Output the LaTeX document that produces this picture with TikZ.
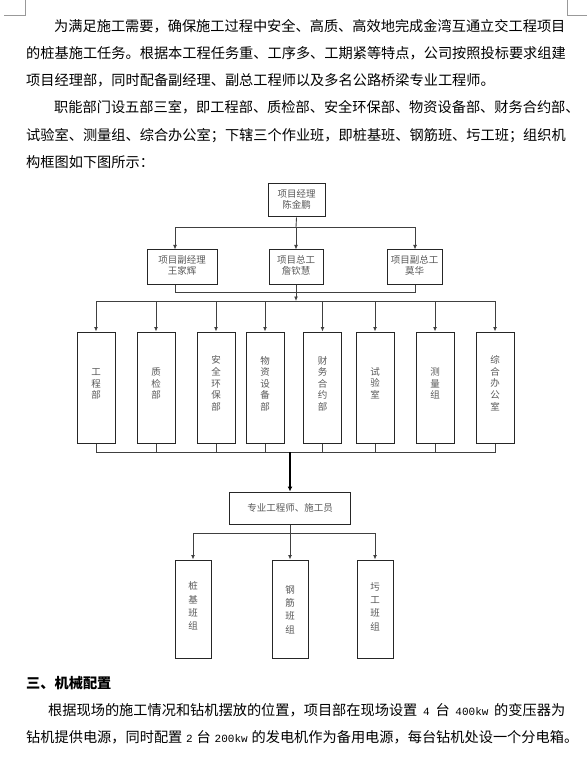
\documentclass[tikz,border=0pt]{standalone}
\usepackage{fontspec}
\setmainfont{Noto Sans CJK SC}
\newfontfamily\latmono{Liberation Mono}
\usetikzlibrary{arrows.meta,calc}
\XeTeXinterchartokenstate=1
\XeTeXinterchartoks 1 1 = {\hskip 0pt plus 1pt minus 0.6pt}
\XeTeXinterchartoks 1 3 = {\hskip 0pt plus 1pt minus 0.6pt}
\XeTeXinterchartoks 3 1 = {\hskip 0pt plus 1pt minus 7pt}
\newcommand\jl[2]{\hbox to #1{#2}}
\newcommand\lat[1]{{\latmono\fontsize{11}{11}\selectfont #1}}
\newcommand\sps{\hskip 3pt plus 2pt minus 1pt}
\newcommand\vt[2]{\raisebox{0pt}[\height][\dimexpr\depth+#1pt+#1pt\relax]{\begin{tabular}{@{}c@{}}#2\end{tabular}}}
\tikzset{
  box/.style={draw=black!85, line width=1pt, inner sep=0pt, text=black!65,
    font=\fontsize{9.5}{10.5}\selectfont, align=center},
  vbox/.style={box, minimum width=38pt, minimum height=111pt, font=\fontsize{9.5}{11.5}\selectfont},
  gbox/.style={box, minimum width=36pt, minimum height=98pt, font=\fontsize{9.5}{13.3}\selectfont},
  con/.style={draw=black!75, line width=0.9pt},
  arr/.style={con, -{Latex[length=4.5pt,width=4pt]}},
  para/.style={inner sep=0pt, anchor=base west, font=\fontsize{14.2}{14.2}\selectfont},
}
\begin{document}
\begin{tikzpicture}[x=1pt,y=-1pt]
\fill[white] (0,0) rectangle (587,783);
\path[use as bounding box] (0,0) rectangle (587,783);
% corner marks
\draw[black!40, line width=0.8pt] (4,15) -- (25,15) -- (25,0);
\draw[black!40, line width=0.8pt] (567,0) -- (567,15) -- (587,15);
% paragraphs
\node[para] (p1) at (54,31.3) {\jl{511pt}{为满足施工需要，确保施工过程中安全、高质、高效地完成金湾互通立交工程项目}};
\node[para] (p2) at (26,58.3) {\jl{539pt}{的桩基施工任务。根据本工程任务重、工序多、工期紧等特点，公司按照投标要求组建}};
\node[para] (p3) at (26,85.3) {项目经理部，同时配备副经理、副总工程师以及多名公路桥梁专业工程师。};
\node[para] (p4) at (54,112.3) {\jl{511pt}{职能部门设五部三室，即工程部、质检部、安全环保部、物资设备部、财务合约部、}};
\node[para] (p5) at (26,140.3) {\jl{539pt}{试验室、测量组、综合办公室；下辖三个作业班，即桩基班、钢筋班、圬工班；组织机}};
\node[para] (p6) at (26,167.3) {构框图如下图所示：};
\node[para] (h1) at (26,688.3) {\bfseries 三、机械配置};
\node[para] (q1) at (48,715.3) {\jl{517pt}{根据现场的施工情况和钻机摆放的位置，项目部在现场设置\sps\lat{4}\sps 台\sps\lat{400kw}\sps 的变压器为}};
\node[para] (q2) at (26,742.3) {\jl{552pt}{钻机提供电源，同时配置\sps\lat{2}\sps 台\sps\lat{200kw}\sps 的发电机作为备用电源，每台钻机处设一个分电箱。}};
% level 1
\node[box, minimum width=57pt, minimum height=33pt] (pm) at (296.5,200.5) {\vt{0}{项目经理\\陈金鹏}};
% level 2
\node[box, minimum width=70pt, minimum height=34pt] (vd1) at (182,267) {\vt{0.5}{项目副经理\\王家辉}};
\node[box, minimum width=54pt, minimum height=34pt] (vd2) at (296,267) {\vt{0.5}{项目总工\\詹钦慧}};
\node[box, minimum width=55pt, minimum height=34pt] (vd3) at (414.5,267) {\vt{0.5}{项目副总工\\莫华}};
% level 3
\node[vbox] (d1) at (96,387.5) {\vt{2.8}{工\\程\\部}};
\node[vbox] (d2) at (156,387.5) {\vt{2.8}{质\\检\\部}};
\node[vbox] (d3) at (216,387.5) {\vt{2.8}{安\\全\\环\\保\\部}};
\node[vbox] (d4) at (265,387.5) {\vt{2.8}{物\\资\\设\\备\\部}};
\node[vbox] (d5) at (322.5,387.5) {\vt{2.8}{财\\务\\合\\约\\部}};
\node[vbox] (d6) at (375,387.5) {\vt{2.8}{试\\验\\室}};
\node[vbox] (d7) at (435,387.5) {\vt{2.8}{测\\量\\组}};
\node[vbox] (d8) at (495,387.5) {\vt{2.8}{综\\合\\办\\公\\室}};
% level 4
\node[box, minimum width=121pt, minimum height=32pt] (eng) at (290,508) {专业工程师、施工员};
% level 5
\node[gbox] (g1) at (193,609) {\vt{2}{桩\\基\\班\\组}};
\node[gbox] (g2) at (290,609) {\vt{-1.5}{钢\\筋\\班\\组}};
\node[gbox] (g3) at (375,609) {\vt{1.5}{圬\\工\\班\\组}};
% connectors level 1 -> 2
\coordinate (j1) at (296,227);
\draw[con] (pm.south) -- (j1);
\draw[arr] (j1) -| ([xshift=-7pt]vd1.north);
\draw[arr] (j1) -- (vd2.north);
\draw[arr] (j1) -| ([xshift=0.5pt]vd3.north);
% level 2 -> 3
\coordinate (j2) at (296,292);
\coordinate (b1) at (296,301);
\draw[con] ([xshift=-7pt]vd1.south) |- (j2);
\draw[con] ([xshift=0.5pt]vd3.south) |- (j2);
\draw[arr] (vd2.south) -- (b1);
\foreach \d in {d1,d2,d3,d4,d5,d6,d7,d8}{
  \draw[arr] (b1) -| (\d.north);
}
% level 3 -> 4
\coordinate (b2) at (290,452);
\foreach \d in {d1,d2,d3,d4,d5,d6,d7,d8}{
  \draw[con] (\d.south) |- (b2);
}
\draw[draw=black, line width=2.2pt, -{Latex[length=5pt,width=5pt]}] (b2) -- (eng.north);
% level 4 -> 5
\coordinate (b3) at (290,533);
\draw[con] (eng.south) -- (b3);
\draw[arr] (b3) -| (g1.north);
\draw[arr] (b3) -- (g2.north);
\draw[arr] (b3) -| (g3.north);
\end{tikzpicture}
\end{document}
